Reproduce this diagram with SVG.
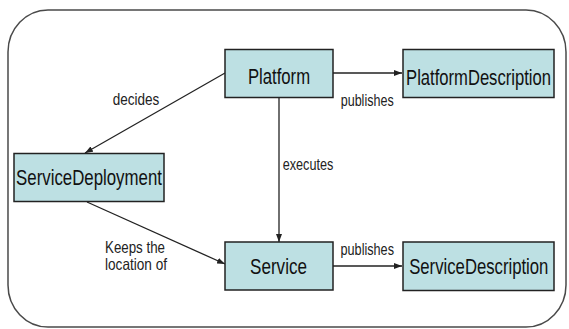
<svg xmlns="http://www.w3.org/2000/svg" width="569" height="329" viewBox="0 0 569 329">
  <style>
    .frame { fill: #ffffff; stroke: #4a4a4a; stroke-width: 1.5; }
    .box { fill: #bde0e3; stroke: #222222; stroke-width: 1.5; }
    .name { font-family: "Liberation Sans", Arial, sans-serif; font-size: 22px; fill: #111111; text-anchor: middle; }
    .lbl { font-family: "Liberation Sans", Arial, sans-serif; font-size: 16.5px; fill: #222222; }
    .edge { fill: none; stroke: #222222; stroke-width: 1.3; marker-end: url(#arrow); }
  </style>
  <defs>
    <marker id="arrow" markerUnits="userSpaceOnUse" markerWidth="8" markerHeight="6" refX="8" refY="3" orient="auto">
      <path d="M0,0 L8,3 L0,6 z" fill="#222222"/>
    </marker>
  </defs>

  <rect class="frame" x="8" y="10" width="558" height="317" rx="40" ry="42"/>

  <g id="connectors">
    <path class="edge" d="M333,73 L402,73"/>
    <path class="edge" d="M225,73 L85,153"/>
    <path class="edge" d="M279,97 L279,242"/>
    <path class="edge" d="M87,202 L225,264"/>
    <path class="edge" d="M333,266 L402,266"/>
    <text class="lbl" x="112.7" y="105" textLength="46.6" lengthAdjust="spacingAndGlyphs">decides</text>
    <text class="lbl" x="340.7" y="105.5" textLength="53" lengthAdjust="spacingAndGlyphs">publishes</text>
    <text class="lbl" x="282.7" y="170" textLength="50.6" lengthAdjust="spacingAndGlyphs">executes</text>
    <text class="lbl" x="105" y="253" textLength="60" lengthAdjust="spacingAndGlyphs">Keeps the</text>
    <text class="lbl" x="105" y="270" textLength="62" lengthAdjust="spacingAndGlyphs">location of</text>
    <text class="lbl" x="340.5" y="255" textLength="53.5" lengthAdjust="spacingAndGlyphs">publishes</text>
  </g>

  <!-- node labels are drawn narrow: horizontal scale 0.76 about the box centre -->
  <g id="platform">
    <rect class="box" x="225" y="49.5" width="108" height="48"/>
    <text class="name" transform="translate(279,83.5) scale(0.76,1)">Platform</text>
  </g>

  <g id="platform-description">
    <rect class="box" x="403" y="49.5" width="151" height="48"/>
    <text class="name" transform="translate(478.5,84.5) scale(0.755,1)">PlatformDescription</text>
  </g>

  <g id="service-deployment">
    <rect class="box" x="14" y="153.5" width="150" height="48"/>
    <text class="name" transform="translate(89,185) scale(0.765,1)">ServiceDeployment</text>
  </g>

  <g id="service">
    <rect class="box" x="225" y="242" width="108" height="48"/>
    <text class="name" transform="translate(278.5,274) scale(0.775,1)">Service</text>
  </g>

  <g id="service-description">
    <rect class="box" x="403" y="242" width="151" height="48.5"/>
    <text class="name" transform="translate(478.8,274) scale(0.76,1)">ServiceDescription</text>
  </g>
</svg>
